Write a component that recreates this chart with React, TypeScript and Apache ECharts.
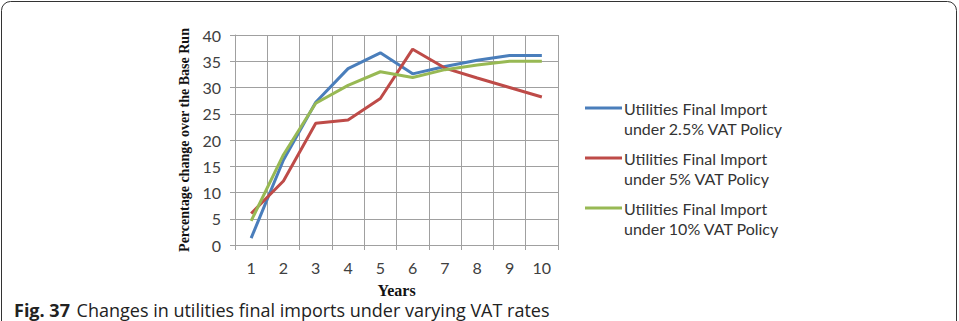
import React, { useEffect, useRef } from "react";
import * as echarts from "echarts";

const years = ["1", "2", "3", "4", "5", "6", "7", "8", "9", "10"];
const seriesNames = [
  "Utilities Final Import\nunder 2.5% VAT Policy",
  "Utilities Final Import\nunder 5% VAT Policy",
  "Utilities Final Import\nunder 10% VAT Policy",
];
const vat25 = [1.3, 16.2, 27.2, 33.6, 36.6, 32.6, 34.0, 35.2, 36.1, 36.1];
const vat5 = [6.0, 12.2, 23.2, 23.8, 27.9, 37.3, 33.7, 31.8, 30.0, 28.2];
const vat10 = [4.6, 17.2, 27.0, 30.4, 33.0, 31.9, 33.4, 34.3, 35.0, 35.0];
const colors = ["#4a7ebb", "#be4b48", "#98b954"];
const yTicks = { min: 0, max: 40, interval: 5 };

export default function App() {
  const ref = useRef<HTMLDivElement>(null);
  useEffect(() => {
    if (!ref.current) return;
    const chart = echarts.init(ref.current, null, { renderer: "svg" });
    const dataSets = [vat25, vat5, vat10];
    const legendGraphics: any[] = [];
    seriesNames.forEach((name, i) => {
      const y = 108 + i * 50;
      legendGraphics.push({
        type: "line",
        shape: { x1: 585, y1: y, x2: 622, y2: y },
        style: { stroke: colors[i], lineWidth: 3 },
      });
      legendGraphics.push({
        type: "text",
        x: 624,
        y: y - 10,
        style: {
          text: name,
          fill: "#333333",
          font: "16px Lato",
          lineHeight: 20,
          textVerticalAlign: "top",
        },
      });
    });
    chart.setOption({
      animation: false,
      backgroundColor: "#ffffff",
      grid: { left: 235, top: 35, width: 323, height: 210 },
      xAxis: {
        type: "category",
        data: years,
        boundaryGap: true,
        name: "Years",
        nameLocation: "middle",
        nameGap: 37,
        nameTextStyle: {
          fontFamily: "Liberation Serif",
          fontWeight: "bold",
          fontSize: 16,
          lineHeight: 17,
          color: "#111",
        },
        axisLine: { lineStyle: { color: "#a0a0a0", width: 1 } },
        axisTick: { show: true, length: 5, lineStyle: { color: "#a0a0a0" } },
        axisLabel: {
          margin: 14,
          fontFamily: "Lato",
          fontSize: 16,
          color: "#404040",
        },
        splitLine: { show: true, lineStyle: { color: "#a0a0a0", width: 1 } },
      },
      yAxis: {
        type: "value",
        min: yTicks.min,
        max: yTicks.max,
        interval: yTicks.interval,
        name: "Percentage change over the Base Run",
        nameLocation: "middle",
        nameRotate: 90,
        nameGap: 44,
        nameTextStyle: {
          fontFamily: "Liberation Serif",
          fontWeight: "bold",
          fontSize: 14,
          color: "#111",
        },
        axisLine: { show: true, lineStyle: { color: "#a0a0a0", width: 1 } },
        axisTick: { show: true, length: 5, lineStyle: { color: "#a0a0a0" } },
        axisLabel: {
          margin: 14,
          fontFamily: "Lato",
          fontSize: 16,
          color: "#404040",
        },
        splitLine: { show: true, lineStyle: { color: "#a0a0a0", width: 1 } },
      },
      series: dataSets.map((d, i) => ({
        type: "line",
        name: seriesNames[i],
        data: d,
        symbol: "none",
        lineStyle: { color: colors[i], width: 3 },
        itemStyle: { color: colors[i] },
      })),
      graphic: [
        {
          type: "rect",
          shape: { x: 1.5, y: 1.5, width: 955, height: 340, r: [9, 9, 0, 0] },
          style: { fill: "none", stroke: "#333", lineWidth: 1 },
          silent: true,
        },
        ...legendGraphics,
        {
          type: "text",
          x: 14,
          y: 320,
          style: {
            text: "{b|Fig. 37}  {r|Changes in utilities final imports under varying VAT rates}",
            textVerticalAlign: "bottom",
            rich: {
              b: { fontFamily: "Open Sans", fontWeight: "bold", fontSize: 18, lineHeight: 20, fill: "#222" },
              r: { fontFamily: "Open Sans", fontSize: 18, lineHeight: 20, fill: "#222" },
            },
          },
        },
      ],
    });
    return () => chart.dispose();
  }, []);
  return (
    <div
      ref={ref}
      style={{ position: "absolute", left: 0, top: 0, width: 959, height: 321 }}
    />
  );
}
